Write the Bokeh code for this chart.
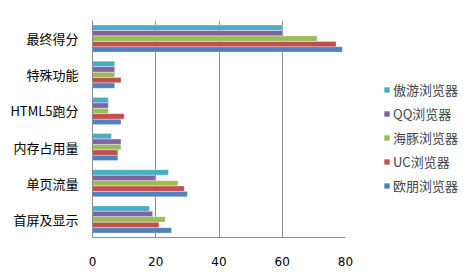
from bokeh.plotting import figure
from bokeh.models import ColumnDataSource, Legend, LegendItem, FactorRange, FixedTicker
from bokeh.transform import dodge
from bokeh.embed import file_html
from bokeh.resources import INLINE

categories = ['首屏及显示', '单页流量', '内存占用量', 'HTML5跑分', '特殊功能', '最终得分']
series_names = ['欧朋浏览器', 'UC浏览器', '海豚浏览器', 'QQ浏览器', '傲游浏览器']
oupeng = [25, 30, 8, 9, 7, 79]
uc = [21, 29, 8, 10, 9, 77]
haitun = [23, 27, 9, 5, 7, 71]
qq = [19, 20, 9, 5, 7, 60]
aoyou = [18, 24, 6, 5, 7, 60]
x_ticks = [0, 20, 40, 60, 80]

colors = ['#4F81BD', '#C0504D', '#9BBB59', '#8064A2', '#4BACC6']
keys = ['oupeng', 'uc', 'haitun', 'qq', 'aoyou']

source = ColumnDataSource(dict(cat=categories, oupeng=oupeng, uc=uc, haitun=haitun, qq=qq, aoyou=aoyou))

p = figure(frame_width=253, frame_height=217, y_range=FactorRange(*categories), x_range=(0, 80),
           output_backend="svg", toolbar_location=None,
           min_border_left=92, min_border_right=0, min_border_top=20, min_border_bottom=37)

step = 0.15
renderers = []
for i, (k, c) in enumerate(zip(keys, colors)):
    r = p.hbar(y=dodge('cat', (i - 2) * step, range=p.y_range), right=k, left=0, height=0.145,
               source=source, fill_color=c, line_color='#FFFFFF', line_alpha=0.5, line_width=0.5)
    renderers.append(r)

p.xaxis.ticker = FixedTicker(ticks=x_ticks)
p.xgrid.ticker = FixedTicker(ticks=x_ticks)
p.xgrid.grid_line_color = '#8C8C8C'
p.ygrid.grid_line_color = None
p.outline_line_color = None

p.xaxis.axis_line_color = '#8C8C8C'
p.yaxis.axis_line_color = '#8C8C8C'
p.xaxis.major_tick_line_color = None
p.yaxis.major_tick_line_color = None
p.xaxis.minor_tick_line_color = None
p.xaxis.major_tick_out = 0
p.xaxis.major_tick_in = 0
p.yaxis.major_tick_out = 0
p.yaxis.major_tick_in = 0
p.xaxis.major_label_text_font = "DejaVu Sans"
p.xaxis.major_label_text_font_size = '12px'
p.xaxis.major_label_text_color = 'black'
p.xaxis.major_label_standoff = 19
p.yaxis.major_label_text_font = "Noto Sans CJK SC"
p.yaxis.major_label_text_font_size = '13px'
p.yaxis.major_label_text_color = 'black'
p.yaxis.major_label_standoff = 14

items = [LegendItem(label=series_names[i], renderers=[renderers[i]]) for i in range(4, -1, -1)]
legend = Legend(items=items, location=(38, 42), orientation='vertical',
                glyph_width=7, glyph_height=7, label_height=20, spacing=4,
                padding=0, margin=0, border_line_color=None, background_fill_alpha=0,
                label_text_font="Noto Sans CJK SC", label_text_font_size='13px',
                label_standoff=3)
p.add_layout(legend, 'right')

open("out.html", "w").write(file_html(p, INLINE))
